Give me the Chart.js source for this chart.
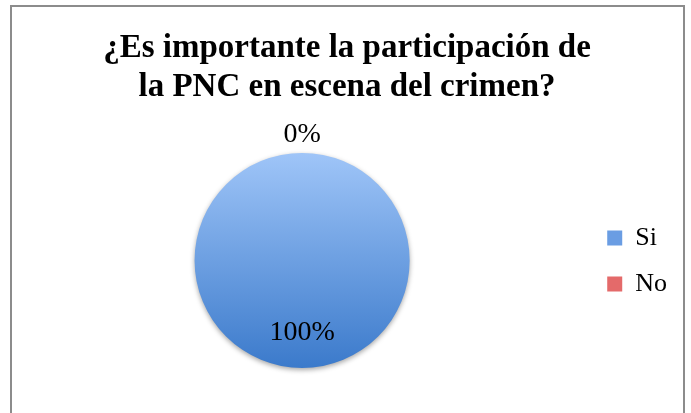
<!DOCTYPE html>
<html>
<head>
<meta charset="utf-8">
<script src="https://cdn.jsdelivr.net/npm/chart.js@4.4.1/dist/chart.umd.min.js"></script>
<style>
  html, body { margin: 0; padding: 0; background: #fff; }
  #wrap { position: relative; width: 691px; height: 413px; }
  #frame { position: absolute; left: 10px; top: 5px; width: 675px; height: 420px; border: 2px solid #8c8c8c; box-sizing: border-box; pointer-events: none; }
</style>
</head>
<body>
<div id="wrap">
  <canvas id="pieChart" width="691" height="413"></canvas>
  <div id="frame"></div>
</div>
<script>
/* =========================
    Data
========================= */
const categories = ['Si', 'No'];
const values = [100, 0];
const percentLabels = ['100%', '0%'];
const titleLines = ['¿Es importante la participación de', 'la PNC en escena del crimen?'];

const serif = "'Liberation Serif', 'DejaVu Serif', serif";

/* =========================
    Gradient helpers
========================= */
const sliceColors = [
    { top: '#9fc5f8', bottom: '#3b7acb', flat: '#6a9de3' },
    { top: '#ff9b9b', bottom: '#d53f3f', flat: '#e46a6a' }
];

function sliceFill(ctx) {
    const c = sliceColors[ctx.dataIndex] || sliceColors[0];
    const area = ctx.chart.chartArea;
    if (!area) return c.flat;
    const g = ctx.chart.ctx.createLinearGradient(0, area.top, 0, area.bottom);
    g.addColorStop(0, c.top);
    g.addColorStop(1, c.bottom);
    return g;
}

/* =========================
    Plugin: sombra + etiquetas %
========================= */
const pieShadow = {
    id: 'pieShadow',
    beforeDatasetsDraw(chart) {
        const ctx = chart.ctx;
        ctx.save();
        ctx.shadowColor = 'rgba(0,0,0,0.35)';
        ctx.shadowBlur = 5;
        ctx.shadowOffsetY = 2;
    },
    afterDatasetsDraw(chart) {
        chart.ctx.restore();
    }
};

const percentText = {
    id: 'percentText',
    afterDraw(chart) {
        const ctx = chart.ctx;
        const meta = chart.getDatasetMeta(0);
        ctx.save();
        ctx.fillStyle = '#000';
        ctx.font = '28px ' + serif;
        ctx.textAlign = 'center';
        ctx.textBaseline = 'middle';
        meta.data.forEach((arc, i) => {
            const mid = (arc.startAngle + arc.endAngle) / 2;
            const r = values[i] > 0 ? arc.outerRadius * 0.67 : arc.outerRadius + 18;
            ctx.fillText(percentLabels[i], arc.x + Math.cos(mid) * r, arc.y + Math.sin(mid) * r);
        });
        ctx.restore();
    }
};

/* =========================
    Chart
========================= */
const ctx = document.getElementById('pieChart').getContext('2d');
new Chart(ctx, {
    type: 'pie',
    data: {
        labels: categories,
        datasets: [{
            data: values,
            backgroundColor: sliceFill,
            borderWidth: 0
        }]
    },
    options: {
        responsive: false,
        animation: false,
        rotation: 0,
        layout: { padding: { left: 17, right: 14, top: 0, bottom: 45 } },
        plugins: {
            tooltip: { enabled: false },
            title: {
                display: true,
                text: titleLines,
                color: '#000',
                font: { family: serif, size: 33, weight: 'bold', lineHeight: 1.18 },
                padding: { top: 29, bottom: 46 }
            },
            legend: {
                position: 'right',
                // titulo vacio solo para bajar los items
                title: { display: true, text: '', font: { size: 10, lineHeight: 1.2 }, padding: { top: 142, bottom: 0 } },
                labels: {
                    color: '#000',
                    font: { family: serif, size: 26 },
                    boxWidth: 15,
                    boxHeight: 15,
                    padding: 20,
                    generateLabels(chart) {
                        return categories.map((name, i) => ({
                            text: name,
                            fillStyle: sliceColors[i].flat,
                            strokeStyle: sliceColors[i].flat,
                            fontColor: '#000',
                            lineWidth: 0,
                            index: i
                        }));
                    }
                }
            }
        }
    },
    plugins: [pieShadow, percentText]
});
</script>
</body>
</html>
